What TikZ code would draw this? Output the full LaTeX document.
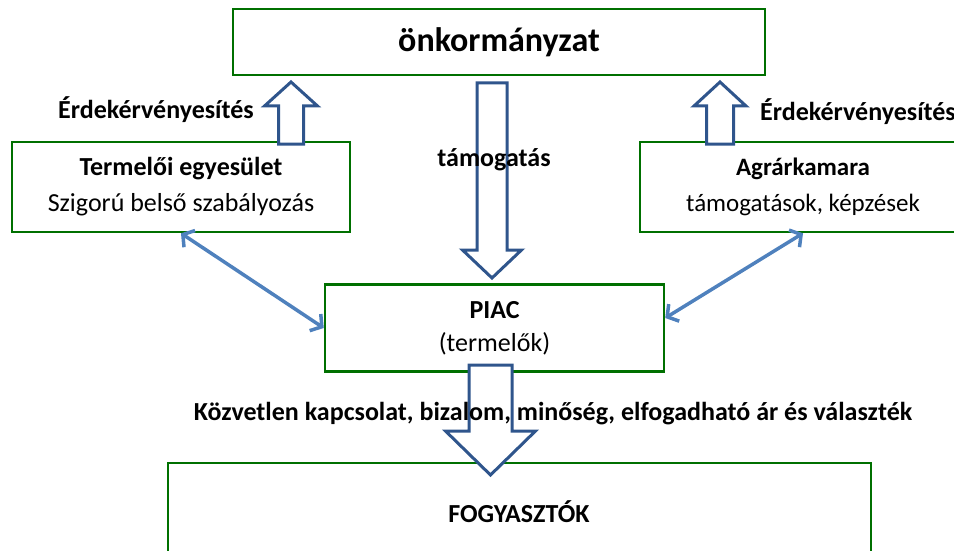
\documentclass[tikz,border=0pt]{standalone}
\usepackage{fontspec}
\setmainfont{Carlito}
\usetikzlibrary{arrows.meta}
\definecolor{boxgreen}{RGB}{0,112,0}
\definecolor{arrowblue}{RGB}{47,85,140}
\definecolor{linkblue}{RGB}{79,129,189}
\newcommand{\blockarrow}[6]{%
    \filldraw[blockline] (#1-#5,#4) -- (#1-#5,#3) -- (#1-#6,#3) -- (#1,#2) -- (#1+#6,#3) -- (#1+#5,#3) -- (#1+#5,#4) -- cycle;}
\begin{document}
\begin{tikzpicture}[x=1pt, y=-1pt,
        box/.style = {draw=boxgreen, line width=2.5pt, inner sep=0pt, align=center, font=\fontsize{26}{36}\selectfont},
        blockline/.style = {draw=arrowblue, fill=white, line width=3pt, line join=miter},
        link/.style = {draw=linkblue, line width=3.5pt, line cap=round, {Straight Barb[length=8pt,width=20pt]}-{Straight Barb[length=8pt,width=20pt]}},
        lbl/.style = {font=\fontsize{26}{30}\selectfont\bfseries, inner sep=0pt}]
    \useasboundingbox (0,0) rectangle (954,551);
    \node[box, minimum width=532pt, minimum height=66pt, font=\fontsize{34}{40}\selectfont\bfseries] (onkormanyzat) at (499,42) {önkormányzat};
    \node[box, minimum width=338pt, minimum height=90pt] (egyesulet) at (181,187) {
            \textbf{Termelői egyesület} \\
            Szigorú belső szabályozás
        };
    \node[box, minimum width=326pt, minimum height=90pt, font=\fontsize{25}{36}\selectfont] (kamara) at (803,187) {
            \textbf{Agrárkamara} \\
            támogatások, képzések
        };
    \node[box, minimum width=339pt, minimum height=87pt, font=\fontsize{26}{33}\selectfont] (piac) at (494.5,328) {
            \textbf{PIAC} \\
            (termelők)
        };
    \node[box, minimum width=703pt, minimum height=136pt] (fogyasztok) at (519.5,531) {};
    \node[lbl] (fogyasztokcim) at (519,512) {FOGYASZTÓK};
    \draw[link] (egyesulet.south) -- (piac.west);
    \draw[link] (kamara.south) -- ([yshift=10pt]piac.east);
    \blockarrow{291}{82}{106}{144}{12.5}{26.5}
    \blockarrow{720}{82}{106}{144}{13.5}{26}
    \blockarrow{492}{278}{250}{83}{15}{29.5}
    \blockarrow{490.5}{475}{431}{365}{21.5}{45}
    \node[lbl] (erdek1) at (156,110) {Érdekérvényesítés};
    \node[lbl, anchor=west] (erdek2) at (760,112) {Érdekérvényesítés};
    \node[lbl] (tamogatas) at (494,160) {támogatás};
    \node[lbl] (kapcsolat) at (553,414) {Közvetlen kapcsolat, bizalom, minőség, elfogadható ár és választék};
\end{tikzpicture}
\end{document}
